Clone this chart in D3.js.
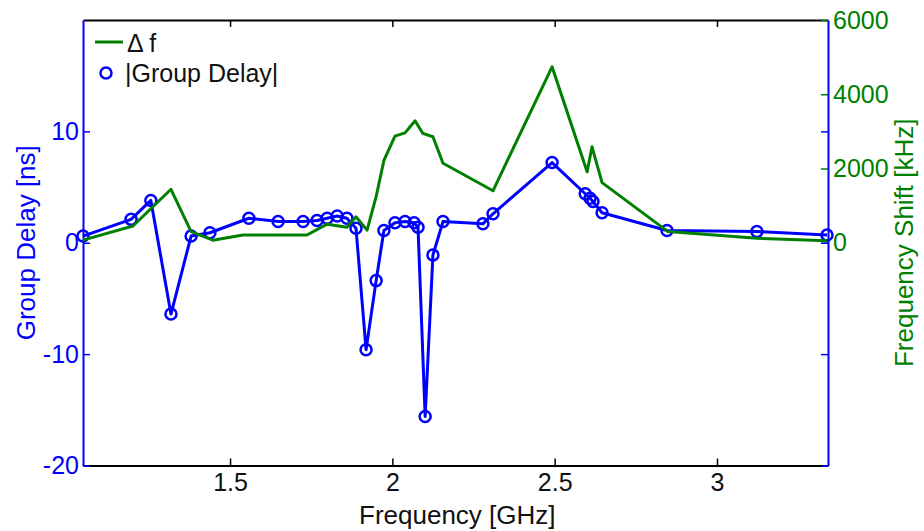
<!DOCTYPE html>
<html>
<head>
<meta charset="utf-8">
<script src="https://cdn.jsdelivr.net/npm/d3@7"></script>
<style>
  body { margin: 0; background: #fff; }
  svg text { font-family: "Liberation Sans", Arial, Helvetica, sans-serif; }
</style>
</head>
<body>
<div id="chart"></div>
<script>
// |Group Delay| samples: frequency (GHz) and delay (ns)
const delayFreq = [1.047, 1.195, 1.256, 1.318, 1.380, 1.438, 1.558, 1.648, 1.725, 1.768,
  1.799, 1.830, 1.860, 1.888, 1.919, 1.950, 1.974, 2.008, 2.039, 2.067,
  2.079, 2.101, 2.125, 2.156, 2.279, 2.310, 2.492, 2.594, 2.609, 2.618,
  2.646, 2.846, 3.123, 3.339];
const delayNs = [0.6, 2.1, 3.8, -6.4, 0.6, 0.9, 2.2, 1.9, 1.9, 2.0,
  2.2, 2.4, 2.2, 1.3, -9.6, -3.4, 1.1, 1.8, 1.9, 1.8,
  1.4, -15.6, -1.1, 1.9, 1.7, 2.6, 7.2, 4.4, 4.0, 3.7,
  2.7, 1.1, 1.0, 0.7];

// Delta f line: frequency (GHz) and shift (kHz)
const shiftFreq = [1.047, 1.201, 1.318, 1.380, 1.447, 1.540, 1.737, 1.799, 1.860, 1.888,
  1.922, 1.950, 1.974, 2.008, 2.039, 2.070, 2.094, 2.125, 2.156, 2.310,
  2.492, 2.600, 2.615, 2.646, 2.849, 3.123, 3.339];
const shiftKHz = [70, 450, 1440, 300, 70, 210, 210, 500, 415, 700,
  340, 1240, 2220, 2870, 2960, 3285, 2945, 2855, 2140, 1400,
  4740, 1910, 2585, 1620, 300, 120, 55];

const xTicks = [1.5, 2, 2.5, 3];
const leftTicks = [-20, -10, 0, 10];
const rightTicks = [0, 2000, 4000, 6000];

const legendLabels = ['\u0394 f', '|Group Delay|'];

class DualAxisChart {
  constructor(_config) {
    this.config = {
      parentElement: _config.parentElement,
      containerWidth: 924,
      containerHeight: 531,
      margin: {top: 20, right: 96, bottom: 65.5, left: 83},
      blue: '#0000ff',
      green: '#008000',
      fontSize: 25,
      titleSize: 26
    };
    this.initVis();
  }

  initVis() {
    let vis = this;
    const m = vis.config.margin;
    vis.width = vis.config.containerWidth - m.left - m.right;
    vis.height = vis.config.containerHeight - m.top - m.bottom;

    vis.svg = d3.select(vis.config.parentElement).append('svg')
        .attr('width', vis.config.containerWidth)
        .attr('height', vis.config.containerHeight);

    vis.chart = vis.svg.append('g')
        .attr('transform', `translate(${m.left},${m.top})`);

    vis.x = d3.scaleLinear().domain([1.047, 3.342]).range([0, vis.width]);
    vis.yLeft = d3.scaleLinear().domain([-20, 20]).range([vis.height, 0]);
    vis.yRight = d3.scaleLinear().domain([-6000, 6000]).range([vis.height, 0]);

    vis.renderVis();
  }

  styleAxis(g, color, showDomain) {
    g.selectAll('.tick line').attr('stroke', color).attr('stroke-width', 1.5);
    g.selectAll('.tick text')
        .attr('fill', color)
        .style('font-size', this.config.fontSize + 'px');
    g.select('.domain')
        .attr('stroke', showDomain ? color : 'none')
        .attr('stroke-width', 2);
  }

  renderVis() {
    let vis = this;
    const c = vis.config;
    const plain = d => String(d);

    // Axes (ticks point inward, MATLAB style)
    const xAxisG = vis.chart.append('g')
        .attr('transform', `translate(0,${vis.height})`)
        .call(d3.axisBottom(vis.x).tickValues(xTicks).tickFormat(plain)
          .tickSize(-7).tickSizeOuter(0).tickPadding(8));
    vis.styleAxis(xAxisG, '#000', true);
    xAxisG.selectAll('.tick text').attr('fill', '#111');

    const xTopG = vis.chart.append('g')
        .call(d3.axisTop(vis.x).tickValues(xTicks).tickSize(-7).tickSizeOuter(0).tickFormat(''));
    vis.styleAxis(xTopG, '#000', true);

    const rightG = vis.chart.append('g')
        .attr('transform', `translate(${vis.width},0)`)
        .call(d3.axisRight(vis.yRight).tickValues(rightTicks).tickFormat(plain)
          .tickSize(-7).tickSizeOuter(0).tickPadding(5));
    vis.styleAxis(rightG, c.green, false);

    const rightMirror = vis.chart.append('g')
        .attr('transform', `translate(${vis.width},0)`)
        .call(d3.axisRight(vis.yLeft).tickValues(leftTicks).tickSize(-7).tickSizeOuter(0).tickFormat(''));
    vis.styleAxis(rightMirror, c.blue, true);

    const leftG = vis.chart.append('g')
        .call(d3.axisLeft(vis.yLeft).tickValues(leftTicks).tickFormat(plain)
          .tickSize(-7).tickSizeOuter(0).tickPadding(4));
    vis.styleAxis(leftG, c.blue, true);

    // Axis titles
    vis.svg.append('text')
        .attr('x', c.margin.left + vis.x(2.2))
        .attr('y', 524)
        .attr('text-anchor', 'middle')
        .attr('fill', '#111')
        .style('font-size', c.titleSize + 'px')
        .text('Frequency [GHz]');

    vis.svg.append('text')
        .attr('transform', `translate(35,${c.margin.top + vis.yLeft(0)}) rotate(-90)`)
        .attr('text-anchor', 'middle')
        .attr('fill', c.blue)
        .style('font-size', c.titleSize + 'px')
        .text('Group Delay [ns]');

    vis.svg.append('text')
        .attr('transform', `translate(913,${c.margin.top + vis.yLeft(0)}) rotate(-90)`)
        .attr('text-anchor', 'middle')
        .attr('fill', c.green)
        .style('font-size', c.titleSize + 'px')
        .text('Frequency Shift [kHz]');

    // Group delay line + markers
    const delayData = delayFreq.map((f, i) => ({f: f, v: delayNs[i]}));
    const delayLine = d3.line().x(d => vis.x(d.f)).y(d => vis.yLeft(d.v));

    vis.chart.append('path')
        .datum(delayData)
        .attr('fill', 'none')
        .attr('stroke', c.blue)
        .attr('stroke-width', 3)
        .attr('stroke-linejoin', 'round')
        .attr('d', delayLine);

    vis.chart.selectAll('.marker')
        .data(delayData)
      .join('circle')
        .attr('class', 'marker')
        .attr('cx', d => vis.x(d.f))
        .attr('cy', d => vis.yLeft(d.v))
        .attr('r', 5.5)
        .attr('fill', 'none')
        .attr('stroke', c.blue)
        .attr('stroke-width', 2.5);

    // Frequency shift line
    const shiftData = shiftFreq.map((f, i) => ({f: f, v: shiftKHz[i]}));
    const shiftLine = d3.line().x(d => vis.x(d.f)).y(d => vis.yRight(d.v));

    vis.chart.append('path')
        .datum(shiftData)
        .attr('fill', 'none')
        .attr('stroke', c.green)
        .attr('stroke-width', 3)
        .attr('stroke-linejoin', 'round')
        .attr('d', shiftLine);

    // Legend (no box)
    const legend = vis.svg.append('g').attr('class', 'legend');
    legend.append('line')
        .attr('x1', 95).attr('x2', 123)
        .attr('y1', 42).attr('y2', 42)
        .attr('stroke', c.green)
        .attr('stroke-width', 3);
    legend.append('text')
        .attr('x', 127).attr('y', 52)
        .attr('fill', '#111')
        .style('font-size', c.fontSize + 'px')
        .text(legendLabels[0]);
    legend.append('circle')
        .attr('cx', 106).attr('cy', 73)
        .attr('r', 5.5)
        .attr('fill', 'none')
        .attr('stroke', c.blue)
        .attr('stroke-width', 2.5);
    legend.append('text')
        .attr('x', 125).attr('y', 82)
        .attr('fill', '#111')
        .style('font-size', c.fontSize + 'px')
        .text(legendLabels[1]);
  }
}

new DualAxisChart({parentElement: '#chart'});
</script>
</body>
</html>
